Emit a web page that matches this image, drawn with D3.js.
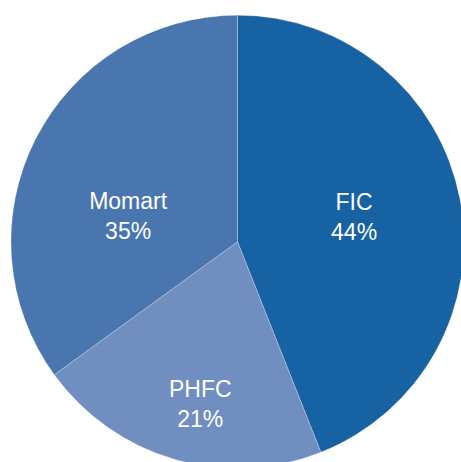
<!DOCTYPE html>
<html>
<head>
<meta charset="utf-8">
<script src="https://cdn.jsdelivr.net/npm/d3@7"></script>
<style>
  html, body { margin: 0; padding: 0; background: #fff; overflow: hidden; }
  .label { font-family: "Liberation Sans", Arial, sans-serif; font-size: 23px; fill: #fff; }
</style>
</head>
<body>
<svg class="chart"></svg>
<script>
// data
var categories = ["FIC", "PHFC", "Momart"];
var shares = [44, 21, 35];
var colors = ["#1762a2", "#718ec1", "#4a76b0"];

// layout
var gwidth = 461, gheight = 462;
var cx = 237.5, cy = 241.7, radius = 226.5;
// label placement (fraction of radius, angle nudge in degrees) to follow the original's best-fit labels
var labelPlace = {FIC: [0.53, -3], PHFC: [0.72, -3], Momart: [0.50, -12]};

var svg = d3.select(".chart")
  .attr("width", gwidth)
  .attr("height", gheight);

var chart = svg.append("g")
  .attr("transform", "translate(" + cx + "," + cy + ")");

var rows = categories.map(function(c, i) { return {name: c, value: shares[i], color: colors[i]}; });

var pie = d3.pie()
  .sort(null)
  .value(function(d) { return d.value; });

var arc = d3.arc()
  .innerRadius(0)
  .outerRadius(radius);

var arcs = pie(rows);

chart.selectAll("path.slice")
  .data(arcs)
  .enter()
  .append("path")
  .attr("class", "slice")
  .attr("d", arc)
  .attr("fill", function(d) { return d.data.color; })
  .attr("stroke", "rgba(255,255,255,0.3)")
  .attr("stroke-width", 0.8);

var labels = chart.selectAll("text.label")
  .data(arcs)
  .enter()
  .append("text")
  .attr("class", "label")
  .attr("text-anchor", "middle")
  .attr("transform", function(d) {
    var p = labelPlace[d.data.name];
    var a = (d.startAngle + d.endAngle) / 2 + p[1] * Math.PI / 180;
    var r = radius * p[0];
    return "translate(" + (Math.sin(a) * r) + "," + (-Math.cos(a) * r) + ")";
  });

labels.append("tspan")
  .attr("x", 0)
  .attr("dy", "-0.15em")
  .text(function(d) { return d.data.name; });
labels.append("tspan")
  .attr("x", 0)
  .attr("dy", "1.3em")
  .text(function(d) { return d.data.value + "%"; });
</script>
</body>
</html>
